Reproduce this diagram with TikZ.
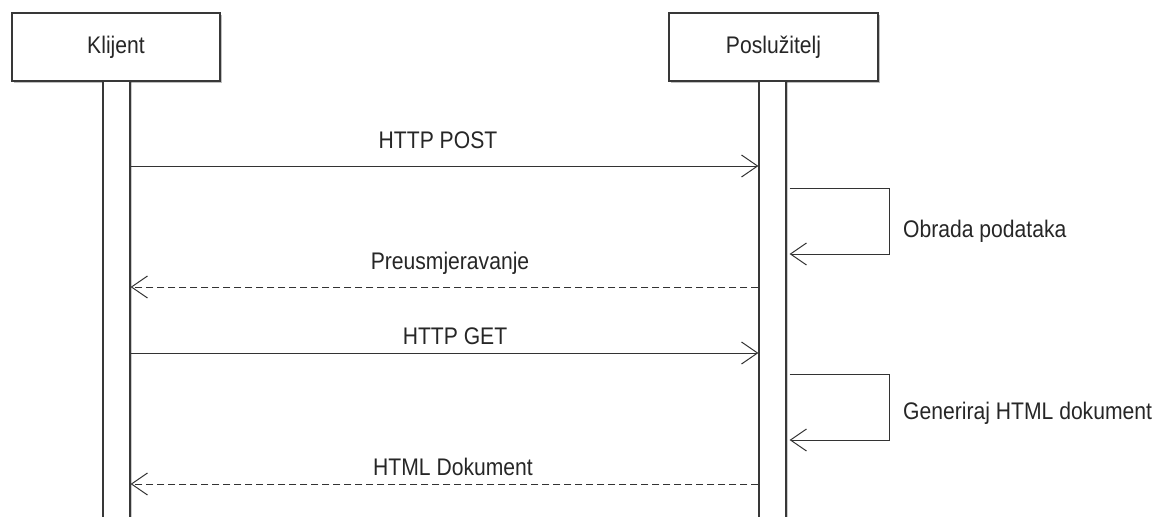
\documentclass[tikz,border=0pt]{standalone}
\usepackage{fontspec}
\setmainfont{Liberation Sans}[FakeStretch=0.88]
\usetikzlibrary{arrows.meta,shadows,calc}
\begin{document}
\begin{tikzpicture}[x=1pt,y=-1pt,
  lbl/.style={font=\fontsize{24}{28}\selectfont, text=black!85, inner sep=0pt},
  actor/.style={draw=black!78, line width=1.2pt, fill=white, minimum width=208pt,
    minimum height=68pt, inner sep=0pt, text height=17pt, text depth=5pt,
    font=\fontsize{24}{28}\selectfont, text=black!85,
    drop shadow={shadow xshift=2pt, shadow yshift=-2pt, opacity=0.25, fill=black}},
  bar/.style={draw=black!78, line width=1.2pt, fill=white, minimum width=27pt,
    minimum height=449pt, inner sep=0pt, anchor=north,
    drop shadow={shadow xshift=2pt, shadow yshift=0pt, opacity=0.2, fill=black}},
  msg/.style={draw=black!80, line width=1pt, -{Straight Barb[length=16pt,width=22pt,line width=1pt]}},
  reply/.style={msg, dash pattern=on 7pt off 4pt},
]
\useasboundingbox (0,0) rectangle (1163,517);

% actors
\node[actor] (K) at (116,47) {Klijent};
\node[actor, minimum width=209pt] (S) at (773.5,47) {Poslužitelj};

% activation bars
\node[bar] (bK) at (116.5,81) {};
\node[bar] (bS) at (772.5,81) {};

% message rows
\coordinate (y1) at (0,166);
\coordinate (y2) at (0,188);
\coordinate (y2b) at (0,254);
\coordinate (y3) at (0,287);
\coordinate (y4) at (0,353);
\coordinate (y5) at (0,374);
\coordinate (y5b) at (0,440);
\coordinate (y6) at (0,484);

% HTTP POST
\draw[msg] (bK.east |- y1) -- (bS.west |- y1);
\node[lbl, anchor=base] (l1) at (438,148) {HTTP POST};

% self message 1
\coordinate (s1a) at ($(bS.east |- y2)+(3,0)$);
\coordinate (s1b) at ($(bS.east |- y2b)+(3,0)$);
\draw[msg] (s1a) -- ++(100,0) |- (s1b);
\node[lbl, anchor=base west] (l2) at (903,237) {Obrada podataka};

% Preusmjeravanje
\draw[reply] (bS.west |- y3) -- (bK.east |- y3);
\node[lbl, anchor=base] (l3) at (450,269) {Preusmjeravanje};

% HTTP GET
\draw[msg] (bK.east |- y4) -- (bS.west |- y4);
\node[lbl, anchor=base] (l4) at (455,344) {HTTP GET};

% self message 2
\coordinate (s2a) at ($(bS.east |- y5)+(3,0)$);
\coordinate (s2b) at ($(bS.east |- y5b)+(3,0)$);
\draw[msg] (s2a) -- ++(100,0) |- (s2b);
\node[lbl, anchor=base west] (l5) at (903,419) {Generiraj HTML dokument};

% HTML Dokument
\draw[reply] (bS.west |- y6) -- (bK.east |- y6);
\node[lbl, anchor=base] (l6) at (453,475) {HTML Dokument};
\end{tikzpicture}
\end{document}
